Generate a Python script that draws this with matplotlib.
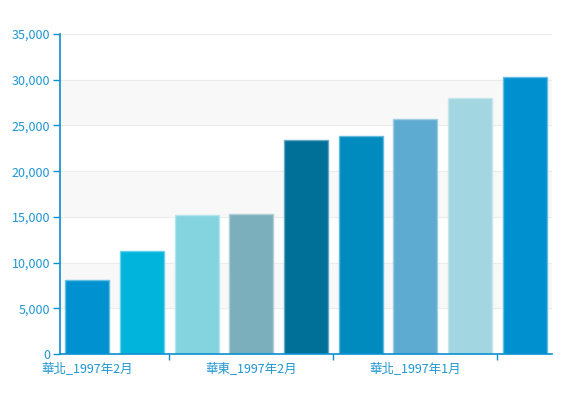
import matplotlib
matplotlib.use("Agg")
import matplotlib.pyplot as plt
import matplotlib.colors as mcolors
import numpy as np

plt.rcParams['font.family'] = ['Noto Sans CJK TC', 'DejaVu Sans']

values = [8100, 11250, 15250, 15300, 23400, 23800, 25700, 28050, 30300]
bar_colors = ['#0092d0', '#00b4dc', '#84d4e0', '#7bafbb', '#007099',
              '#008bbf', '#5eabd1', '#a2d6e0', '#0090d0']
label_positions = [0, 3, 6]
labels = ['華北_1997年2月', '華東_1997年2月', '華北_1997年1月']
yticks = [0, 5000, 10000, 15000, 20000, 25000, 30000, 35000]

axis_color = '#0a8fd0'
text_color = '#1e96d2'

fig = plt.figure(figsize=(5.79, 3.94), dpi=100)
ax = fig.add_axes([60/579, 1-354/394, (552-60)/579, (354-34)/394])

x = np.arange(len(values))
# background bands
for i in range(len(yticks) - 1):
    if i % 2 == 1:
        ax.axhspan(yticks[i], yticks[i+1], color='#f8f8f8', zorder=0, lw=0)
for t in yticks[1:]:
    ax.axhline(t, color='#ececec', lw=0.8, zorder=0.5)

edge_colors = []
for c in bar_colors:
    r, g, b = mcolors.to_rgb(c)
    edge_colors.append((r + (1-r)*0.4, g + (1-g)*0.4, b + (1-b)*0.4))

ax.bar(x, values, width=0.8, color=bar_colors, edgecolor=edge_colors,
       linewidth=1.0, zorder=2)

ax.set_xlim(-0.5, len(values) - 0.5)
ax.set_ylim(0, 35000)

ax.set_yticks(yticks)
ax.set_yticklabels([f'{v:,}' for v in yticks])
ax.set_xticks(label_positions)
ax.set_xticklabels(labels)
ax.set_xticks([1.5, 4.5, 7.5], minor=True)

ax.tick_params(axis='y', colors=axis_color, labelcolor=text_color, length=5,
               width=1, labelsize=9, pad=2)
ax.tick_params(axis='x', which='major', length=0, labelcolor=text_color,
               labelsize=9, pad=6)
ax.tick_params(axis='x', which='minor', length=4, width=1, colors=axis_color)

for s in ['top', 'right']:
    ax.spines[s].set_visible(False)
for s in ['left', 'bottom']:
    ax.spines[s].set_color(axis_color)
    ax.spines[s].set_linewidth(1.2)

fig.savefig('out.png', dpi=100)
